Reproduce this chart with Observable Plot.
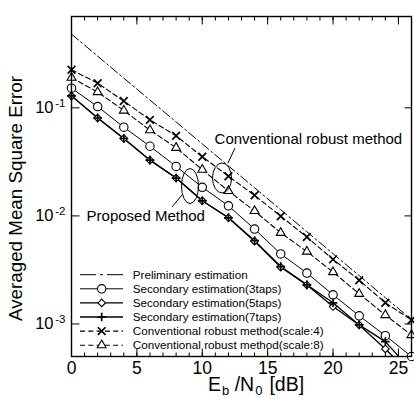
<!DOCTYPE html>
<html>
<head>
<meta charset="utf-8">
<script src="https://cdn.jsdelivr.net/npm/d3@7"></script>
<script src="https://cdn.jsdelivr.net/npm/@observablehq/plot@0.6"></script>
<style>
  html, body { margin: 0; padding: 0; background: #fff; }
  #chart svg { display: block; }
</style>
</head>
<body>
<div id="chart"></div>
<script>
// Eb/N0 in dB
const ebn0 = [0, 2, 4, 6, 8, 10, 12, 14, 16, 18, 20, 22, 24, 26];

// Averaged mean square error of each estimator
const preliminary = [0.48, 0.301, 0.188, 0.118, 0.074, 0.0463, 0.029, 0.0182, 0.0114, 0.00713, 0.00447, 0.0028, 0.00175, 0.0011];
const secondary3  = [0.152, 0.1026, 0.0662, 0.0441, 0.0287, 0.0184, 0.0124, 0.00755, 0.00445, 0.00296, 0.00186, 0.00119, 0.00078, 0.0005];
const secondary5  = [0.129, 0.0805, 0.052, 0.0328, 0.0224, 0.0138, 0.0096, 0.00583, 0.00335, 0.0023, 0.00145, 0.00098, 0.000587, 0.00034];
const secondary7  = [0.129, 0.0805, 0.052, 0.0328, 0.0224, 0.0138, 0.0096, 0.0059, 0.0034, 0.0023, 0.00157, 0.00098, 0.000686, 0.00037];
const robust4     = [0.225, 0.169, 0.1156, 0.0774, 0.0551, 0.0353, 0.0233, 0.0155, 0.00993, 0.00637, 0.00396, 0.00254, 0.00157, 0.00109];
const robust8     = [0.19, 0.14, 0.0944, 0.0622, 0.0427, 0.0268, 0.017, 0.0111, 0.00697, 0.00468, 0.00302, 0.0019, 0.00121, 0.00079];

const seriesNames = [
  "Preliminary estimation",
  "Secondary estimation(3taps)",
  "Secondary estimation(5taps)",
  "Secondary estimation(7taps)",
  "Conventional robust method(scale:4)",
  "Conventional robust method(scale:8)"
];
const seriesValues = [preliminary, secondary3, secondary5, secondary7, robust4, robust8];

// Axis ticks
const xTicks = [0, 5, 10, 15, 20, 25];
const xMinorTicks = [0,1,2,3,4,5,6,7,8,9,10,11,12,13,14,15,16,17,18,19,20,21,22,23,24,25,26];
const yTicks = [1e-1, 1e-2, 1e-3];
const yTickExponents = ["-1", "-2", "-3"];

// Annotation labels
const proposedLabel = "Proposed Method";
const conventionalLabel = "Conventional robust method";

// Drawing styles per series
const styles = [
  {symbol: null,        r: 0,   dash: "9,3,2,3", width: 1},
  {symbol: "circle",    r: 4.2, dash: null,      width: 1},
  {symbol: "diamond2",  r: 3.4, dash: null,      width: 1.3},
  {symbol: "plus",      r: 2.9, dash: null,      width: 1.3},
  {symbol: "times",     r: 3.6, dash: "5,3",     width: 1.1},
  {symbol: "triangle",  r: 3.3, dash: "5,3",     width: 1.1}
];

const rows = seriesNames.flatMap((name, i) =>
  ebn0.map((x, j) => ({series: i, name, x, y: seriesValues[i][j]})));

const yMin = 5e-4, yMax = 0.7;
const font = "'Liberation Sans', Arial, Helvetica, sans-serif";

// Short inward tick drawn as a custom symbol starting at the frame edge
const tickSymbol = (dx, dy) => ({draw(context) { context.moveTo(0, 0); context.lineTo(dx, dy); }});
const inwardTicksX = (ticks, anchor, len) => Plot.dot(ticks, {
  x: d => d, frameAnchor: anchor, r: 1, fill: "none", stroke: "black", strokeWidth: 1,
  symbol: tickSymbol(0, anchor === "bottom" ? -len : len)
});
const inwardTicksY = (ticks, anchor, len) => Plot.dot(ticks, {
  y: d => d, frameAnchor: anchor, r: 1, fill: "none", stroke: "black", strokeWidth: 1,
  symbol: tickSymbol(anchor === "left" ? len : -len, 0)
});

const drawOrder = [4, 5, 0, 1, 2, 3];
const lineMarks = drawOrder.map(i => Plot.line(rows.filter(d => d.series === i), {
  x: "x", y: "y", stroke: "black", strokeWidth: styles[i].width,
  strokeDasharray: styles[i].dash, clip: true
}));
const dotMarks = drawOrder.filter(i => styles[i].symbol).map(i => Plot.dot(
  rows.filter(d => d.series === i && d.y >= yMin), {
  x: "x", y: "y", symbol: () => styles[i].symbol, r: styles[i].r,
  fill: "white", stroke: "black",
  strokeWidth: (styles[i].symbol === "times" || styles[i].symbol === "plus") ? 1.7 : 1.1
}));

const chart = Plot.plot({
  width: 414,
  height: 408,
  marginLeft: 71,
  marginRight: 3,
  marginTop: 16,
  marginBottom: 52,
  style: {fontFamily: font, background: "white", color: "black"},
  x: {domain: [0, 26]},
  y: {type: "log", domain: [yMin, yMax]},
  marks: [
    // tick labels
    Plot.axisX({anchor: "bottom", ticks: xTicks, tickSize: 0, tickPadding: 5.5, fontSize: 17.5, tickFormat: d => String(d), label: null}),
    Plot.axisY({anchor: "left", ticks: yTicks, tickSize: 0, tickPadding: 18, fontSize: 16.5, tickFormat: () => "10", label: null}),
    Plot.text(yTicks, {y: d => d, frameAnchor: "left", text: (d, i) => yTickExponents[i],
      dx: -6, dy: -5, textAnchor: "end", fontSize: 11.5}),
    // inward ticks on all four sides
    inwardTicksX(xMinorTicks, "bottom", 4),
    inwardTicksX(xMinorTicks, "top", 4),
    inwardTicksX(xTicks, "bottom", 8),
    inwardTicksX(xTicks, "top", 8),
    inwardTicksY(yTicks, "left", 8),
    inwardTicksY(yTicks, "right", 7),
    Plot.text(["Averaged Mean Square Error"], {frameAnchor: "left", text: d => d,
      rotate: -90, dx: -56, dy: 12, textAnchor: "middle", fontSize: 18.8}),
    ...lineMarks,
    ...dotMarks,
    Plot.text([proposedLabel], {x: () => 1.15, y: () => 0.00986, text: d => d, textAnchor: "start", fontSize: 15}),
    Plot.text([conventionalLabel], {x: () => 10.94, y: () => 0.0514, text: d => d, textAnchor: "start", fontSize: 15}),
    Plot.frame({stroke: "black", strokeWidth: 1.4})
  ]
});

document.getElementById("chart").appendChild(chart);

// Ellipses and leader lines around the curve groups
const sx = chart.scale("x"), sy = chart.scale("y");
const svg = d3.select(chart);
const annot = svg.append("g").attr("fill", "none").attr("stroke", "black").attr("stroke-width", 1);
const ellipses = [
  {x: 9.1, y: 0.0187, rx: 8.5, ry: 17.5},
  {x: 11.55, y: 0.0222, rx: 9.5, ry: 15}
];
ellipses.forEach(e => annot.append("ellipse")
  .attr("cx", sx.apply(e.x)).attr("cy", sy.apply(e.y))
  .attr("rx", e.rx).attr("ry", e.ry));
const leaders = [
  {x1: 8.49, y1: 0.01545, x2: 7.72, y2: 0.01197},
  {x1: 12.0, y1: 0.0305, x2: 12.54, y2: 0.042}
];
leaders.forEach(l => annot.append("line")
  .attr("x1", sx.apply(l.x1)).attr("y1", sy.apply(l.y1))
  .attr("x2", sx.apply(l.x2)).attr("y2", sy.apply(l.y2)));

// Legend inside the lower-left corner of the frame
const legend = svg.append("g").attr("font-family", font).attr("font-size", 11.7)
  .attr("text-anchor", "start");
const symbolTypes = {circle: d3.symbolCircle, diamond2: d3.symbolDiamond2, plus: d3.symbolPlus,
  times: d3.symbolTimes, triangle: d3.symbolTriangle};
const legendDash = ["16,4,3,4", null, null, null, "5,3.3", "5,3.3"];
seriesNames.forEach((name, i) => {
  const y = 274.7 + i * 14.1;
  const g = legend.append("g").attr("transform", `translate(0,${y})`);
  g.append("line").attr("x1", 80).attr("x2", 123).attr("stroke", "black")
    .attr("stroke-width", styles[i].width).attr("stroke-dasharray", legendDash[i]);
  const s = styles[i];
  if (s.symbol) {
    g.append("path").attr("transform", "translate(101.7,0)")
      .attr("d", d3.symbol(symbolTypes[s.symbol], Math.PI * s.r * s.r)())
      .attr("fill", "white").attr("stroke", "black")
      .attr("stroke-width", (s.symbol === "times" || s.symbol === "plus") ? 1.7 : 1.1);
  }
  g.append("text").attr("x", 132.7).attr("dy", "0.35em").text(name);
});

// x-axis title with subscripts
const xt = svg.append("text").attr("font-family", font).attr("font-size", 19.5)
  .attr("text-anchor", "start").attr("x", 208).attr("y", 391);
xt.append("tspan").text("E");
xt.append("tspan").attr("font-size", 13).attr("dy", 4).attr("dx", 1).text("b");
xt.append("tspan").attr("dy", -4).text(" /N");
xt.append("tspan").attr("font-size", 13).attr("dy", 4).attr("dx", 1).text("0");
xt.append("tspan").attr("dy", -4).attr("dx", 7).text("[dB]");
</script>
</body>
</html>
